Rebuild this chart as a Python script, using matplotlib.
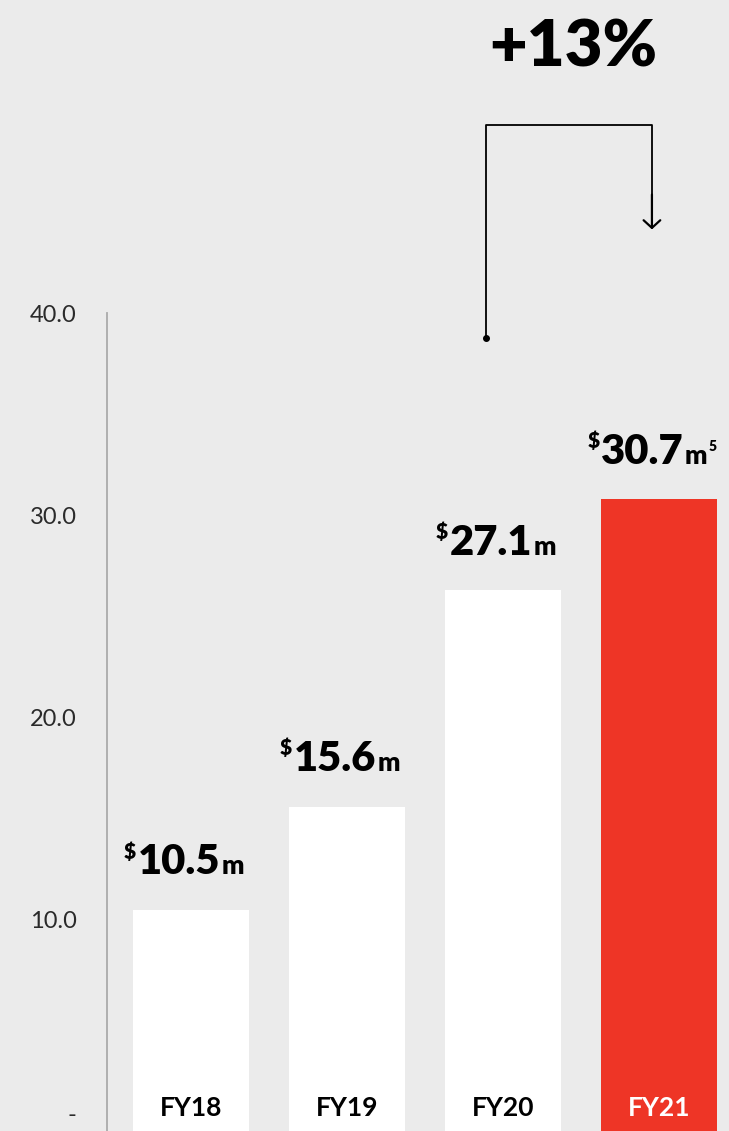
import matplotlib.pyplot as plt
import numpy as np

# chart data
years = ['FY18', 'FY19', 'FY20', 'FY21']
bar_vals = [10.5, 15.6, 26.3, 30.8]          # bar heights as drawn
labels = ['10.5', '15.6', '27.1', '30.7']     # printed values
footnotes = ['', '', '', '5']
ytick_vals = [0, 10, 20, 30, 40]
ytick_text = ['-', '10.0', '20.0', '30.0', '40.0']
growth = '+13%'

bg = '#EBEBEB'
red = '#EE3526'
plt.rcParams['font.family'] = ['Lato', 'DejaVu Sans']

fig = plt.figure(figsize=(7.29, 11.31), dpi=100, facecolor=bg)
ax = fig.add_axes([107/729, 0, 1 - 107/729, 1])
ax.set_facecolor(bg)
ax.set_xlim(-0.538, 3.449)
ax.set_ylim(-0.445, 55.48)

x = np.arange(len(years))
colors = ['white'] * 3 + [red]
ax.bar(x, bar_vals, width=0.74, bottom=-1, color=colors, zorder=2)
# bars start below the visible bottom
for b, v in zip(ax.patches, bar_vals):
    b.set_height(v + 1)

for sp in ['top', 'right', 'bottom']:
    ax.spines[sp].set_visible(False)
ax.spines['left'].set_bounds(-0.445, 40)
ax.spines['left'].set_color('#AAAAAA')
ax.spines['left'].set_linewidth(1.3)
ax.set_xticks([])
ax.set_yticks(ytick_vals)
ax.set_yticklabels(ytick_text, fontsize=17, fontweight='normal', color='#2A2A2A')
ax.tick_params(axis='y', length=0, pad=22)
ax.get_yticklabels()[0].set_verticalalignment('baseline')

# category labels inside bars
for i, yr in enumerate(years):
    ax.text(i, 0.3, yr, ha='center', va='baseline', fontsize=19,
            fontweight='bold', color='white' if i == 3 else 'black', zorder=3)

# value labels: $ + number + m (+ footnote), centered as one group
fig.canvas.draw()
r = fig.canvas.get_renderer()
pt = 72 / fig.dpi
for i, (v, lab, fn) in enumerate(zip(bar_vals, labels, footnotes)):
    ybase = v + 1.75
    parts = [('$', 15, 12), (lab, 30, 0), ('m', 19, 0)]
    if fn:
        parts.append((fn, 10, 9))
    gaps = [2, 1, 1]
    arts = []
    for s, fs, dy in parts:
        a = ax.annotate(s, (i, ybase), xytext=(0, dy), textcoords='offset points',
                        ha='left', va='baseline', fontsize=fs,
                        fontweight='heavy', color='black', zorder=3)
        arts.append(a)
    widths = [a.get_window_extent(r).width for a in arts]
    total = sum(widths) + sum(gaps[:len(arts) - 1])
    xpx = -total / 2 - 7
    for k, (a, (s, fs, dy)) in enumerate(zip(arts, parts)):
        a.xyann = (xpx * pt, dy)
        xpx += widths[k] + (gaps[k] if k < len(gaps) else 0)

# growth bracket
xs, xe = 1.891, 2.955
y_dot, y_top, y_tip = 38.76, 49.3, 44.0
ax.plot([xs, xs, xe, xe], [y_dot, y_top, y_top, y_tip + 0.3], color='black', lw=1.3)
ax.plot([xs], [y_dot], 'o', color='black', ms=4)
ax.annotate('', xy=(xe, y_tip), xytext=(xe, y_tip + 2),
            arrowprops=dict(arrowstyle='->,head_width=0.6,head_length=0.55',
                            color='black', lw=1.6))
ax.text(2.449, 52.2, growth, ha='center', va='baseline', fontsize=47,
        fontweight='heavy', color='black')

fig.savefig('out.png', dpi=100, facecolor=bg)
